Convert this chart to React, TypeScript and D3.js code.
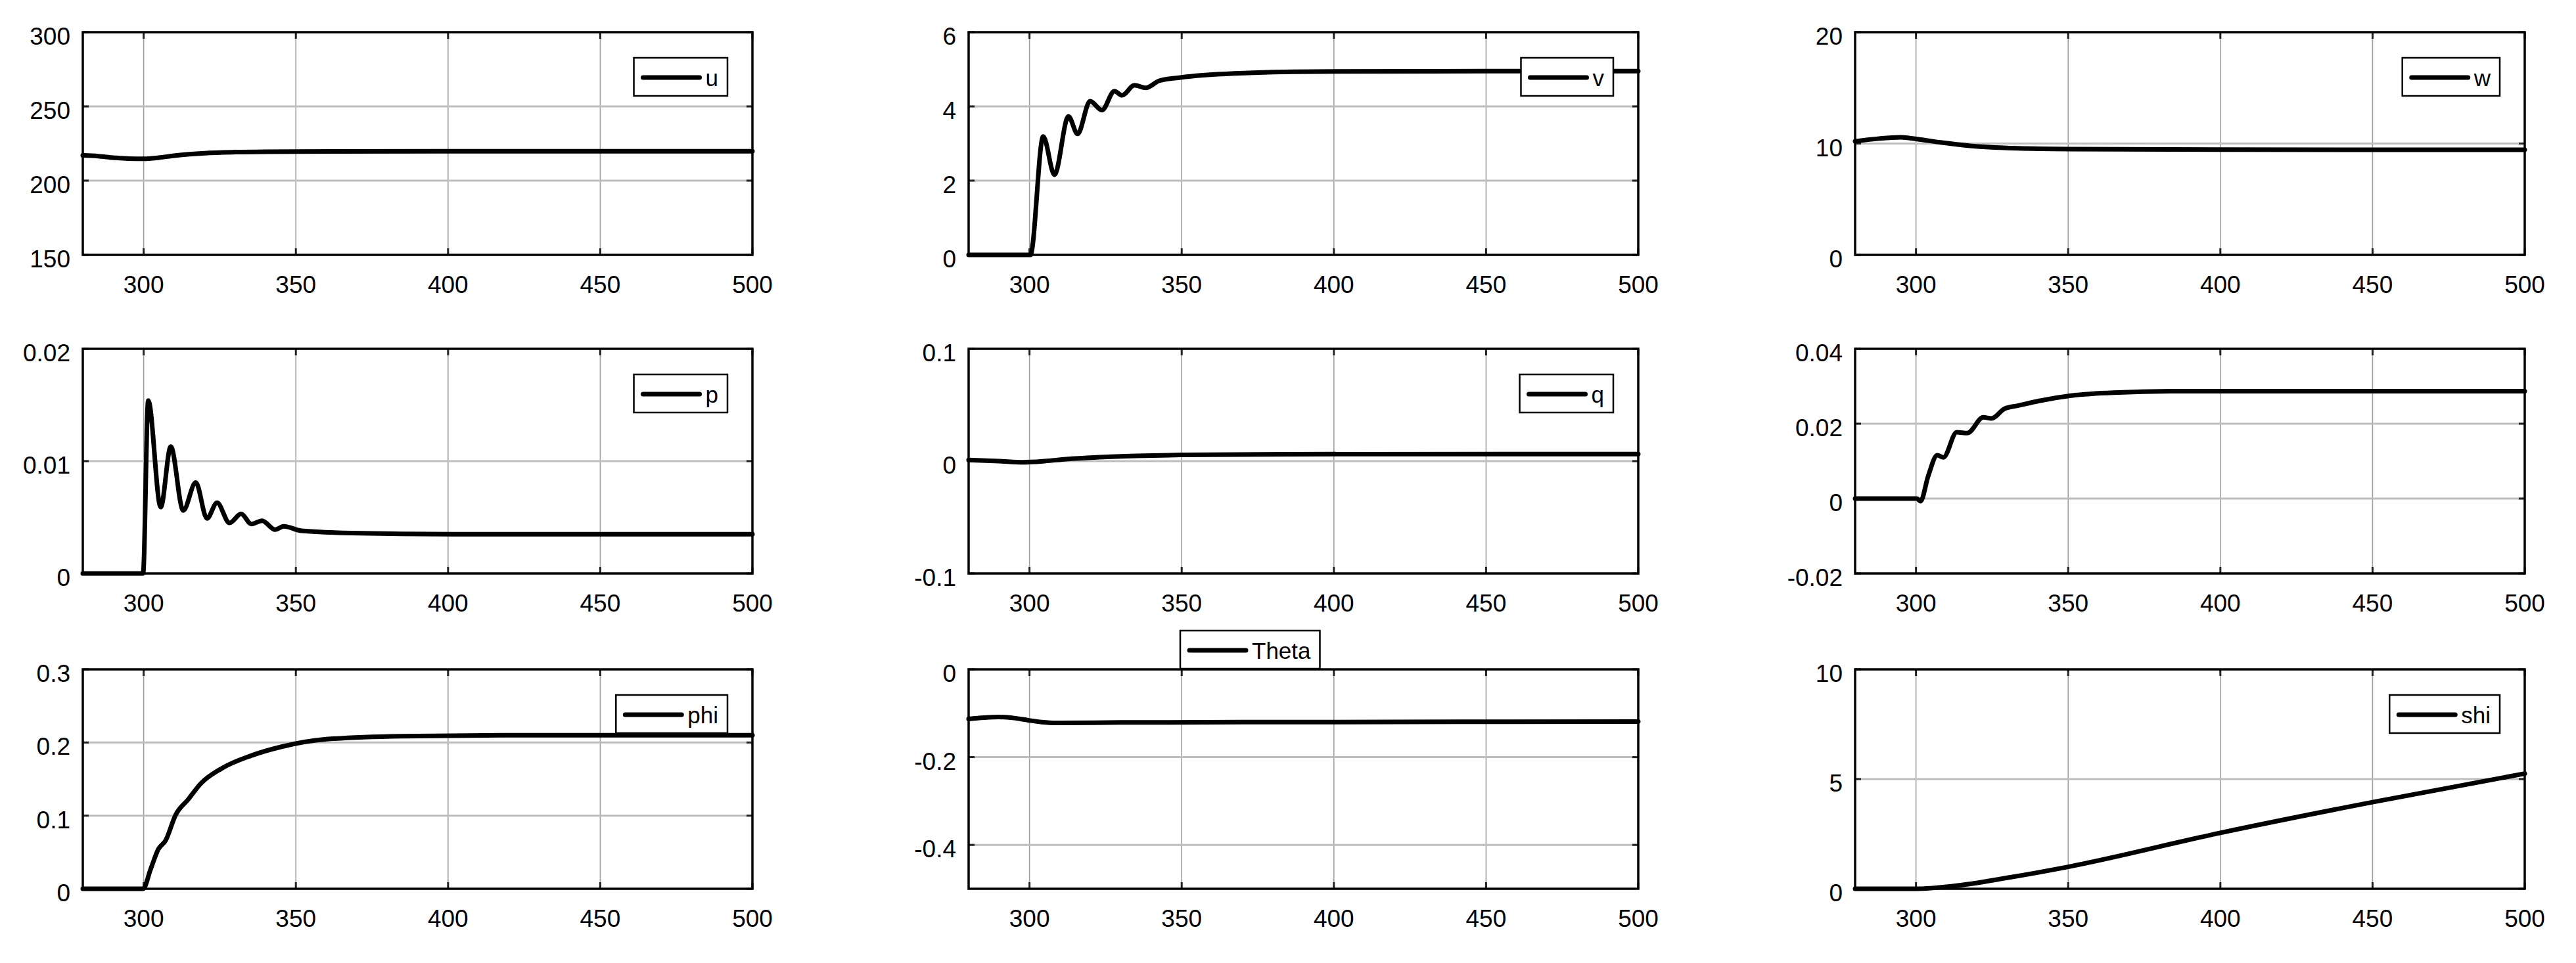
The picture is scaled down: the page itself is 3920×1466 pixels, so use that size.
import React from "react";
import * as d3 from "d3";

// time axis shared by all nine panels
const xDomain = [280, 500];
const xTicks = [300, 350, 400, 450, 500];

// series as [time, value]
const uData = [[280, 217], [285, 216.5], [290, 215.5], [295, 214.8], [300, 214.7], [305, 215.5], [310, 216.8], [315, 217.8], [320, 218.5], [330, 219.2], [340, 219.5], [350, 219.6], [400, 219.8], [500, 219.8]];
const vData = [[280, 0], [300.3, 0], [304.5, 3.19], [308.2, 2.16], [312.8, 3.73], [315.8, 3.26], [319.9, 4.14], [323.8, 3.9], [327.9, 4.41], [330.4, 4.3], [334.5, 4.57], [338.2, 4.5], [342.6, 4.69], [349.6, 4.78], [367.5, 4.89], [394, 4.94], [450, 4.95], [500, 4.95]];
const wData = [[280, 10.2], [288, 10.45], [295, 10.56], [300.3, 10.4], [308, 10.1], [317.7, 9.8], [333.4, 9.57], [350.9, 9.5], [400, 9.45], [500, 9.44]];
const pData = [[280, 0], [299.8, 0], [301.5, 0.0154], [305.6, 0.0059], [308.9, 0.0113], [313, 0.0056], [317.1, 0.0081], [320.8, 0.0049], [324.1, 0.0063], [328.2, 0.0045], [332, 0.0053], [335.4, 0.0044], [338.9, 0.0047], [343.2, 0.0039], [346, 0.0042], [351.8, 0.0038], [368.3, 0.0036], [401, 0.0035], [500, 0.0035]];
const qData = [[280, 0.001], [290, 0], [297.9, -0.001], [305, 0], [312, 0.0018], [322.9, 0.0035], [335, 0.0047], [349.7, 0.0055], [385, 0.0062], [500, 0.0063]];
const rData = [[280, 0], [300.3, 0], [301.5, -0.0007], [304, 0.006], [307, 0.0116], [309, 0.011], [313.4, 0.0177], [316.9, 0.0175], [322.1, 0.0217], [324.8, 0.0214], [329.1, 0.024], [333.4, 0.0248], [340.5, 0.0261], [351, 0.0275], [365, 0.0283], [391, 0.0287], [500, 0.0287]];
const phiData = [[280, 0], [299.8, 0], [302.3, 0.027], [304.8, 0.054], [307.2, 0.066], [310.5, 0.101], [314.6, 0.122], [318.8, 0.144], [325.4, 0.164], [335.3, 0.182], [345.1, 0.194], [360, 0.2045], [384.7, 0.2087], [417.7, 0.21], [500, 0.21]];
const thetaData = [[280, -0.113], [285, -0.110], [289.9, -0.1085], [295, -0.111], [299.6, -0.116], [304, -0.12], [308.5, -0.122], [330, -0.121], [400, -0.12], [500, -0.119]];
const shiData = [[280, 0], [300, 0], [312, 0.12], [330, 0.5], [350, 1.0], [400, 2.55], [450, 3.95], [500, 5.25]];

// y ticks per panel
const uTicks = [150, 200, 250, 300];
const vTicks = [0, 2, 4, 6];
const wTicks = [0, 10, 20];
const pTicks = [0, 0.01, 0.02];
const qTicks = [-0.1, 0, 0.1];
const rTicks = [-0.02, 0, 0.02, 0.04];
const phiTicks = [0, 0.1, 0.2, 0.3];
const thetaTicks = [-0.4, -0.2, 0];
const shiTicks = [0, 5, 10];

const panels = [
  {label: "u", data: uData, yDomain: [150, 300], yTicks: uTicks, row: 0, col: 0, legend: "ne"},
  {label: "v", data: vData, yDomain: [0, 6], yTicks: vTicks, row: 0, col: 1, legend: "ne"},
  {label: "w", data: wData, yDomain: [0, 20], yTicks: wTicks, row: 0, col: 2, legend: "ne"},
  {label: "p", data: pData, yDomain: [0, 0.02], yTicks: pTicks, row: 1, col: 0, legend: "ne"},
  {label: "q", data: qData, yDomain: [-0.1, 0.1], yTicks: qTicks, row: 1, col: 1, legend: "ne"},
  {label: null, data: rData, yDomain: [-0.02, 0.04], yTicks: rTicks, row: 1, col: 2, legend: null},
  {label: "phi", data: phiData, yDomain: [0, 0.3], yTicks: phiTicks, row: 2, col: 0, legend: "ne"},
  {label: "Theta", data: thetaData, yDomain: [-0.5, 0], yTicks: thetaTicks, row: 2, col: 1, legend: "above"},
  {label: "shi", data: shiData, yDomain: [0, 10], yTicks: shiTicks, row: 2, col: 2, legend: "ne"},
];

const W = 3920;
const H = 1466;
const colLeft = [126, 1474, 2823];
const plotW = 1019;
const rowTop = [49, 531, 1019];
const rowH = [339, 342, 334];
const FONT = "'Liberation Sans', Arial, sans-serif";
const tickSize = 37;
const legendSize = 35;

let measureCtx = null;
function textWidth(str, size) {
  if (!measureCtx) {
    const c = document.createElement("canvas");
    measureCtx = c.getContext("2d");
  }
  measureCtx.font = `${size}px ${FONT}`;
  return measureCtx.measureText(str).width;
}

function Panel({cfg}) {
  const x0 = colLeft[cfg.col];
  const y0 = rowTop[cfg.row];
  const h = rowH[cfg.row];

  const x = d3.scaleLinear().domain(xDomain).range([x0, x0 + plotW]);
  const y = d3.scaleLinear().domain(cfg.yDomain).range([y0 + h, y0]);

  const line = d3.line()
    .x(d => x(d[0]))
    .y(d => y(d[1]))
    .curve(d3.curveMonotoneX);

  const yMin = cfg.yDomain[0], yMax = cfg.yDomain[1];

  let legend = null;
  if (cfg.legend) {
    const tw = textWidth(cfg.label, legendSize);
    const lw = 12 + 88 + 9 + tw + 14;
    const lh = 58;
    let lx, ly;
    if (cfg.legend === "ne") {
      lx = x0 + plotW - 38 - lw;
      ly = y0 + 39;
    } else {
      lx = x0 + 322;
      ly = y0 - lh - 1;
    }
    legend = (
      <g>
        <rect x={lx} y={ly} width={lw} height={lh} fill="#fff" stroke="#000" strokeWidth={2.5} />
        <line x1={lx + 14} x2={lx + 100} y1={ly + lh / 2 + 1} y2={ly + lh / 2 + 1}
          stroke="#000" strokeWidth={7} strokeLinecap="round" />
        <text x={lx + 109} y={ly + lh / 2 + 14} fontSize={legendSize} fontFamily={FONT} fill="#000">{cfg.label}</text>
      </g>
    );
  }

  return (
    <g>
      {/* grid */}
      {xTicks.filter(t => t < xDomain[1]).map(t => (
        <line key={"gx" + t} x1={x(t)} x2={x(t)} y1={y0} y2={y0 + h} stroke="#a0a0a0" strokeWidth={1.6} />
      ))}
      {cfg.yTicks.filter(t => t > yMin && t < yMax).map(t => (
        <line key={"gy" + t} x1={x0} x2={x0 + plotW} y1={y(t)} y2={y(t)} stroke="#bdbdbd" strokeWidth={3} />
      ))}
      {/* inward ticks */}
      {xTicks.map(t => (
        <g key={"tx" + t}>
          <line x1={x(t)} x2={x(t)} y1={y0 + h} y2={y0 + h - 10} stroke="#222" strokeWidth={3} />
          <line x1={x(t)} x2={x(t)} y1={y0} y2={y0 + 10} stroke="#222" strokeWidth={3} />
        </g>
      ))}
      {cfg.yTicks.map(t => (
        <g key={"ty" + t}>
          <line x1={x0} x2={x0 + 9} y1={y(t)} y2={y(t)} stroke="#222" strokeWidth={3} />
          <line x1={x0 + plotW} x2={x0 + plotW - 9} y1={y(t)} y2={y(t)} stroke="#222" strokeWidth={3} />
        </g>
      ))}
      <path d={line(cfg.data)} fill="none" stroke="#000" strokeWidth={7} strokeLinejoin="round" strokeLinecap="round" />
      <rect x={x0} y={y0} width={plotW} height={h} fill="none" stroke="#000" strokeWidth={3.5} />
      {/* tick labels */}
      {cfg.yTicks.map(t => (
        <text key={"ly" + t} x={x0 - 19} y={y(t) + 19} textAnchor="end" fontSize={tickSize} fontFamily={FONT} fill="#000">{String(t)}</text>
      ))}
      {xTicks.map(t => (
        <text key={"lx" + t} x={x(t)} y={y0 + h + 58} textAnchor="middle" fontSize={tickSize} fontFamily={FONT} fill="#000">{String(t)}</text>
      ))}
      {legend}
    </g>
  );
}

export default function App() {
  return (
    <svg width={W} height={H} viewBox={`0 0 ${W} ${H}`}
      style={{position: "absolute", left: 0, top: 0, background: "#fff"}}>
      <rect x={0} y={0} width={W} height={H} fill="#fff" />
      {panels.map((p, i) => <Panel key={i} cfg={p} />)}
    </svg>
  );
}
